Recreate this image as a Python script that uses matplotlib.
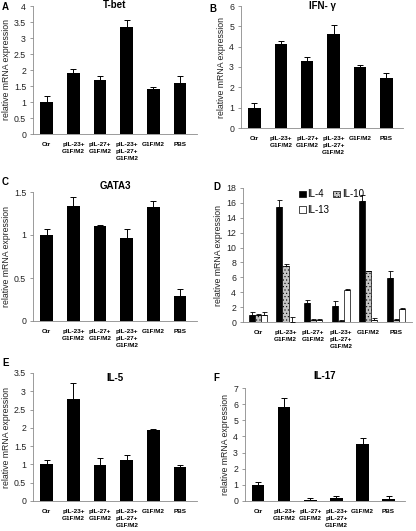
import matplotlib
matplotlib.use("Agg")
import matplotlib.pyplot as plt
import numpy as np

plt.rcParams['font.family'] = ['Liberation Sans', 'DejaVu Sans']

categories = ["Ctr", "pIL-23+\nG1F/M2", "pIL-27+\nG1F/M2", "pIL-23+\npIL-27+\nG1F/M2", "G1F/M2", "PBS"]

tbet_vals = [1.0, 1.92, 1.70, 3.33, 1.40, 1.60]
tbet_err = [0.18, 0.12, 0.12, 0.22, 0.08, 0.22]

ifng_vals = [1.0, 4.15, 3.30, 4.60, 3.00, 2.45]
ifng_err = [0.25, 0.15, 0.17, 0.45, 0.10, 0.25]

gata3_vals = [1.0, 1.34, 1.10, 0.97, 1.33, 0.29]
gata3_err = [0.07, 0.10, 0.02, 0.10, 0.06, 0.08]

il4_vals = [1.0, 15.5, 2.5, 2.2, 16.3, 5.9]
il4_err = [0.3, 0.9, 0.5, 0.6, 0.7, 1.0]
il10_vals = [1.0, 7.5, 0.3, 0.2, 6.8, 0.3]
il10_err = [0.1, 0.3, 0.05, 0.05, 0.05, 0.05]
il13_vals = [1.0, 0.05, 0.3, 4.3, 0.3, 1.7]
il13_err = [0.3, 0.6, 0.05, 0.1, 0.2, 0.2]

il5_vals = [1.0, 2.80, 0.98, 1.13, 1.93, 0.93]
il5_err = [0.12, 0.42, 0.20, 0.12, 0.04, 0.05]

il17_vals = [1.0, 5.85, 0.08, 0.18, 3.55, 0.12]
il17_err = [0.20, 0.50, 0.08, 0.15, 0.35, 0.20]

fig = plt.figure(figsize=(4.16, 5.31), dpi=100)

GRAY = '#8a8a8a'
H = 531.0
W = 416.0

def rect(l, r, t, b):
    return [l / W, 1 - b / H, (r - l) / W, (b - t) / H]

def style(ax, ylim, yticks, xlim):
    ax.set_xlim(*xlim)
    ax.set_ylim(*ylim)
    ax.set_yticks(yticks)
    ax.set_yticklabels([('%g' % t) for t in yticks], fontsize=6.3, color='#222222')
    ax.set_xticks(range(len(categories)))
    ax.set_xticklabels(categories, fontsize=4.6, fontweight='bold', linespacing=1.5)
    for s in ['top', 'right']:
        ax.spines[s].set_visible(False)
    for s in ['left', 'bottom']:
        ax.spines[s].set_color(GRAY)
        ax.spines[s].set_linewidth(0.6)
    ax.tick_params(axis='y', length=2, width=0.6, color=GRAY, pad=3)
    ax.tick_params(axis='x', length=0, pad=6)
    ax.set_ylabel('relative mRNA expression', fontsize=6.3, color='#222222', labelpad=2)

def single(r, vals, errs, ylim, yticks, title, title_px, letter, letter_px):
    ax = fig.add_axes(rect(*r))
    x = np.arange(len(categories))
    ax.bar(x, vals, width=0.47, color='black', zorder=2)
    ax.errorbar(x, vals, yerr=[np.zeros(len(vals)), errs], fmt='none', ecolor='black',
                elinewidth=0.7, capsize=2.5, capthick=0.7, zorder=3)
    style(ax, ylim, yticks, (-0.51, 5.63))
    cx = (r[0] + r[1]) / 2.0
    fig.text(cx / W, 1 - title_px / H, title, ha='center', va='top',
             fontsize=7, fontweight='bold')
    fig.text(letter_px[0] / W, 1 - letter_px[1] / H, letter, fontsize=7, fontweight='bold',
             ha='left', va='top')
    return ax

single((33, 197, 6, 134), tbet_vals, tbet_err, (0, 4), np.arange(0, 4.01, 0.5), 'T-bet', 0.5, 'A', (2, 2))
single((241, 403, 6, 128), ifng_vals, ifng_err, (0, 6), np.arange(0, 6.01, 1), 'IFN- γ', 1.0, 'B', (209, 4))
single((33, 197, 192, 321), gata3_vals, gata3_err, (0, 1.5), [0, 0.5, 1, 1.5], 'GATA3', 181, 'C', (2, 177))
single((33, 197, 373, 501), il5_vals, il5_err, (0, 3.5), np.arange(0, 3.51, 0.5), 'IL-5', 373, 'E', (2, 358))
single((245, 405, 388, 501), il17_vals, il17_err, (0, 7), np.arange(0, 7.01, 1), 'IL-17', 371, 'F', (213, 373))

# Panel D grouped
ax = fig.add_axes(rect(243, 412, 188, 322))
x = np.arange(len(categories))
w = 0.22
plt.rcParams['hatch.color'] = '#7a7a7a'
plt.rcParams['hatch.linewidth'] = 0.4
series = [(il4_vals, il4_err, 'black', None, 'IL-4'),
          (il10_vals, il10_err, '#c4c4c4', '.....', 'IL-10'),
          (il13_vals, il13_err, 'white', None, 'IL-13')]
handles = []
for k, (v, e, c, h, lab) in enumerate(series):
    xs = x + (k - 1) * w
    b = ax.bar(xs, v, width=w, color=c, edgecolor='black', linewidth=0.5, hatch=h, label=lab, zorder=2)
    ax.errorbar(xs, v, yerr=[np.zeros(len(v)), e], fmt='none', ecolor='black',
                elinewidth=0.6, capsize=1.8, capthick=0.6, zorder=3)
    handles.append(b)
style(ax, (0, 18), np.arange(0, 18.01, 2), (-0.54, 5.58))
ax.legend(handles=[handles[0], handles[2], handles[1]], labels=['IL-4', 'IL-13', 'IL-10'],
          ncol=2, loc='upper left', bbox_to_anchor=(0.33, 0.99), frameon=False, fontsize=7,
          borderpad=0, borderaxespad=0,
          handlelength=0.7, handleheight=0.7, handletextpad=0.2, columnspacing=0.4, labelspacing=0.6)
fig.text(213 / W, 1 - 182 / H, 'D', fontsize=7, fontweight='bold', ha='left', va='top')

fig.savefig('out.png', dpi=100)
